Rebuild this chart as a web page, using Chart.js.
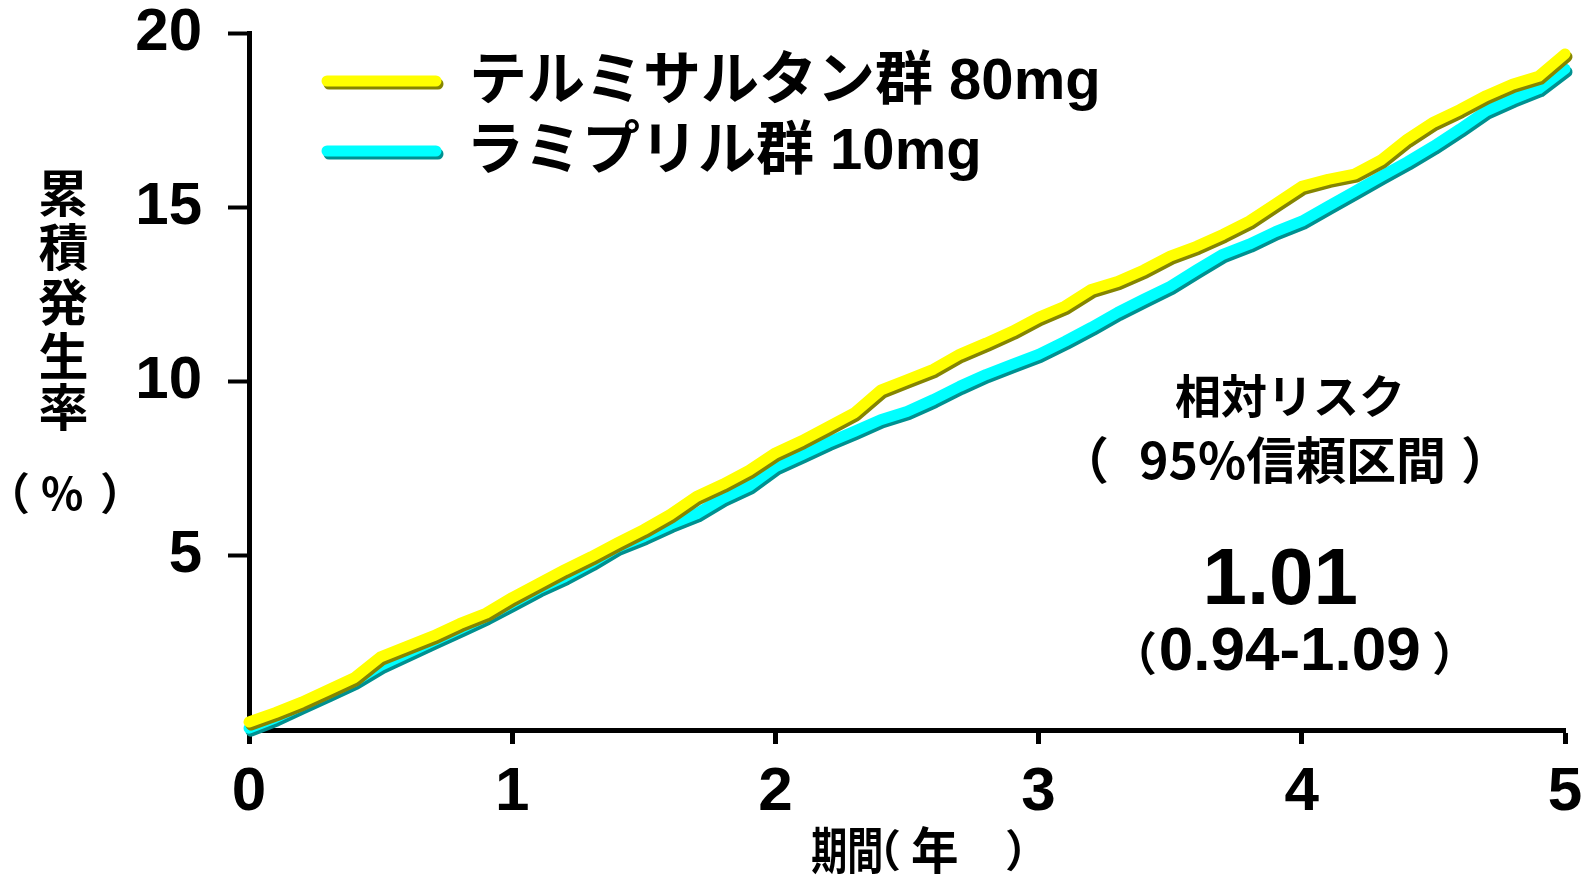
<!DOCTYPE html>
<html>
<head>
<meta charset="utf-8">
<script src="https://cdn.jsdelivr.net/npm/chart.js@4.4.1/dist/chart.umd.min.js"></script>
<style>
html,body{margin:0;padding:0;background:#fff;}
#wrap{width:1583px;height:878px;position:relative;}
</style>
</head>
<body>
<div id="wrap"><canvas id="c" width="1583" height="878"></canvas></div>
<script>
// ---- data ----
const years = [0,0.1,0.2,0.3,0.4,0.5,0.6,0.7,0.8,0.9,1.0,1.1,1.2,1.3,1.4,1.5,1.6,1.7,1.8,1.9,2.0,2.1,2.2,2.3,2.4,2.5,2.6,2.7,2.8,2.9,3.0,3.1,3.2,3.3,3.4,3.5,3.6,3.7,3.8,3.9,4.0,4.1,4.2,4.3,4.4,4.5,4.6,4.7,4.8,4.9,5.0];
const telmisartan = [0.23,0.5,0.8,1.15,1.5,2.1,2.4,2.7,3.05,3.35,3.8,4.2,4.6,4.97,5.37,5.75,6.18,6.7,7.05,7.45,7.95,8.3,8.7,9.1,9.75,10.05,10.35,10.78,11.1,11.44,11.84,12.16,12.64,12.87,13.2,13.6,13.88,14.22,14.6,15.1,15.6,15.8,15.95,16.35,16.95,17.44,17.8,18.2,18.53,18.76,19.4];
const ramipril = [0.05,0.35,0.7,1.05,1.4,1.85,2.2,2.55,2.9,3.25,3.65,4.05,4.4,4.8,5.25,5.55,5.9,6.2,6.65,7.0,7.55,7.9,8.25,8.57,8.9,9.14,9.48,9.86,10.2,10.49,10.78,11.15,11.55,11.98,12.36,12.73,13.2,13.65,13.94,14.3,14.6,15.03,15.45,15.88,16.3,16.75,17.24,17.76,18.1,18.4,18.97];
const seriesLabels = ['テルミサルタン群 80mg','ラミプリル群 10mg'];
const xTicks = [0,1,2,3,4,5];
const yTicks = [5,10,15,20];
const yTitleChars = ['累','積','発','生','率'];
const yTitleUnit = ['（','%','）'];
const xTitle = ['期間','（','年','）'];
const noteLine1 = '相対リスク';
const noteLine2 = ['（','95%信頼区間','）'];
const rrValue = '1.01';
const rrCI = ['（','0.94-1.09','）'];

const FONT = '"Liberation Sans", "Noto Sans CJK JP", sans-serif';
const NUM = '"Liberation Sans Narrow", "Liberation Sans", sans-serif';
const CJK = '"Noto Sans CJK JP", "Liberation Sans", sans-serif';
const colors = [
  {line:'#ffff00', shadow:'#858500'},
  {line:'#00ffff', shadow:'#009090'}
];

function pts(vals){ return years.map((x,i)=>({x:x,y:vals[i]})); }

// draw text so that its ink starts at L (optionally condensed by sx)
function inkAt(ctx, text, L, y, sx){
  sx = sx || 1;
  ctx.save();
  ctx.translate(L, y);
  ctx.scale(sx, 1);
  ctx.textAlign = 'left';
  const m = ctx.measureText(text);
  ctx.fillText(text, m.actualBoundingBoxLeft, 0);
  ctx.restore();
}
function inkEnd(ctx, text, R, y){
  ctx.textAlign = 'left';
  const m = ctx.measureText(text);
  ctx.fillText(text, R - m.actualBoundingBoxRight, y);
}
function inkCenter(ctx, text, C, y){
  ctx.textAlign = 'left';
  const m = ctx.measureText(text);
  const w = m.actualBoundingBoxLeft + m.actualBoundingBoxRight;
  ctx.fillText(text, C - w/2 + m.actualBoundingBoxLeft, y);
}

const shadowPlugin = {
  id:'shadow',
  beforeDatasetDraw(chart, args){
    const ctx = chart.ctx;
    ctx.save();
    ctx.shadowColor = colors[args.index].shadow;
    ctx.shadowOffsetX = 2;
    ctx.shadowOffsetY = 3;
    ctx.shadowBlur = 0;
  },
  afterDatasetDraw(chart){
    chart.ctx.restore();
  }
};

const textPlugin = {
  id:'texts',
  afterDraw(chart){
    const ctx = chart.ctx;
    ctx.save();
    ctx.fillStyle = '#000';
    ctx.textBaseline = 'middle';
    // y-axis title (vertical)
    ctx.font = 'bold 50px ' + CJK;
    const yc = [193, 247, 302, 356, 407];
    yTitleChars.forEach((ch,i)=>{ inkCenter(ctx, ch, 63, yc[i]); });
    ctx.font = 'bold 44px ' + CJK;
    inkAt(ctx, yTitleUnit[0], 15, 493);
    inkCenter(ctx, yTitleUnit[1], 62, 493);
    inkEnd(ctx, yTitleUnit[2], 115, 493);
    // x-axis title
    ctx.font = 'bold 50px ' + CJK;
    inkAt(ctx, xTitle[0], 812, 850, 0.72);
    ctx.font = 'bold 44px ' + CJK;
    inkAt(ctx, xTitle[1], 886, 850);
    ctx.font = 'bold 50px ' + CJK;
    inkAt(ctx, xTitle[2], 912, 850, 0.95);
    ctx.font = 'bold 44px ' + CJK;
    inkEnd(ctx, xTitle[3], 1020, 850);
    // legend
    chart.data.datasets.forEach((ds,i)=>{
      const y = 83 + i*70;
      ctx.save();
      ctx.shadowColor = colors[i].shadow;
      ctx.shadowOffsetX = 2; ctx.shadowOffsetY = 3; ctx.shadowBlur = 0;
      ctx.strokeStyle = colors[i].line;
      ctx.lineWidth = 11;
      ctx.lineCap = 'round';
      ctx.beginPath(); ctx.moveTo(327, y-2); ctx.lineTo(436, y-2); ctx.stroke();
      ctx.restore();
      ctx.font = 'bold 58px ' + FONT;
      inkAt(ctx, ds.label, 473, y);
    });
    // note
    ctx.font = 'bold 46px ' + CJK;
    inkCenter(ctx, noteLine1, 1288, 396);
    ctx.font = 'bold 50px ' + CJK;
    inkAt(ctx, noteLine2[0], 1092, 460);
    inkCenter(ctx, noteLine2[1], 1292, 460);
    inkEnd(ctx, noteLine2[2], 1478, 460);
    ctx.font = 'bold 80px ' + NUM;
    inkCenter(ctx, rrValue, 1282, 582);
    ctx.font = 'bold 46px ' + CJK;
    inkAt(ctx, rrCI[0], 1141, 653);
    inkEnd(ctx, rrCI[2], 1448, 653);
    ctx.font = 'bold 62px ' + NUM;
    inkCenter(ctx, rrCI[1], 1290, 653);
    ctx.restore();
  }
};

new Chart(document.getElementById('c'), {
  type:'line',
  data:{
    datasets:[
      {label:seriesLabels[0], data:pts(telmisartan), borderColor:colors[0].line, backgroundColor:colors[0].line,
       borderWidth:11, pointRadius:0, tension:0, borderCapStyle:'round', borderJoinStyle:'round', clip:false},
      {label:seriesLabels[1], data:pts(ramipril), borderColor:colors[1].line, backgroundColor:colors[1].line,
       borderWidth:11, pointRadius:0, tension:0, borderCapStyle:'round', borderJoinStyle:'round', clip:false}
    ]
  },
  options:{
    responsive:false,
    animation:false,
    devicePixelRatio:1,
    layout:{padding:{top:33, right:18, left:0, bottom:0}},
    plugins:{legend:{display:false}, tooltip:{enabled:false}},
    scales:{
      x:{
        type:'linear', min:0, max:5,
        afterBuildTicks(s){ s.ticks = xTicks.map(v=>({value:v})); },
        afterFit(s){ s.height = 148; s.paddingLeft = 0; s.paddingRight = 0; },
        grid:{drawOnChartArea:false, drawTicks:true, tickLength:14, tickWidth:5, color:'#000'},
        border:{display:true, width:5, color:'#000'},
        ticks:{color:'#000', font:{family:NUM, size:62, weight:'bold'}, padding:12, maxRotation:0}
      },
      y:{
        type:'linear', min:0, max:20,
        afterBuildTicks(s){ s.ticks = yTicks.map(v=>({value:v})); },
        afterFit(s){ s.width = 249; s.paddingTop = 0; s.paddingBottom = 0; },
        grid:{drawOnChartArea:false, drawTicks:true, tickLength:21, tickWidth:4, color:'#000'},
        border:{display:true, width:5, color:'#000'},
        ticks:{color:'#000', font:{family:NUM, size:60, weight:'bold'}, padding:26}
      }
    }
  },
  plugins:[shadowPlugin, textPlugin]
});
</script>
</body>
</html>
